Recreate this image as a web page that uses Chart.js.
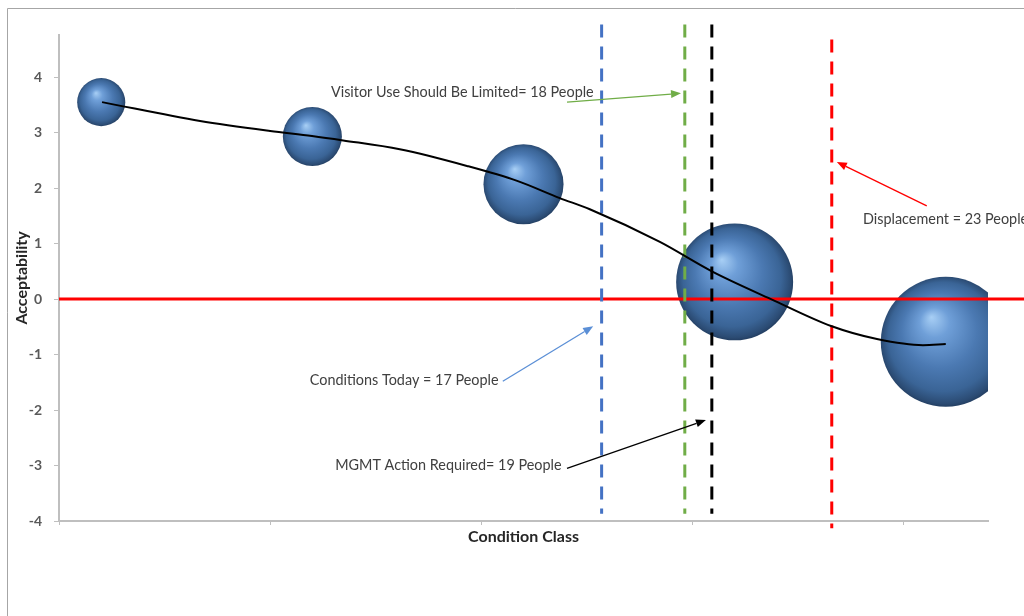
<!DOCTYPE html>
<html>
<head>
<meta charset="utf-8">
<script src="https://cdn.jsdelivr.net/npm/chart.js@4"></script>
<style>
    html, body { margin: 0; padding: 0; background: #fff; }
    #wrap { width: 1024px; height: 616px; }
</style>
</head>
<body>
<div id="wrap"><canvas id="chart" width="1024" height="616"></canvas></div>
<script>
// bubbles (condition classes)
const bubbleX = [1, 6, 11, 16, 21];
const bubbleY = [3.55, 2.93, 2.07, 0.31, -0.77];
const bubbleSize = [11.8, 17.8, 32.7, 69.8, 86.2];

// trend curve
const trendX = [1.02, 3.34, 5.0, 5.99, 6.73, 8.07, 9.66, 10.85, 11.86, 12.57, 14.23, 15.46, 16.86, 18.3, 19.37, 20.46, 21.0];
const trendY = [3.55, 3.21, 3.03, 2.94, 2.86, 2.70, 2.40, 2.13, 1.82, 1.62, 1.03, 0.50, 0.0, -0.49, -0.72, -0.83, -0.81];

// vertical thresholds
const markerX = [12.85, 14.82, 15.46, 18.3];
const markerTop = [4.95, 4.95, 4.95, 4.68];
const markerBottom = [-3.87, -3.87, -3.87, -4.13];
const markerColors = ['#4472c4', '#70ad47', '#000000', '#ff0000'];

// callouts
const noteText = ['Visitor Use Should Be Limited= 18 People', 'Displacement = 23 People', 'Conditions Today = 17 People', 'MGMT Action Required= 19 People'];
const noteX = [6.44, 19.04, 5.94, 6.54];
const noteY = [3.72, 1.43, -1.47, -3.0];
const arrowFromX = [12.03, 20.55, 10.51, 12.03];
const arrowFromY = [3.55, 1.68, -1.48, -3.05];
const arrowToX = [14.73, 18.42, 12.65, 15.32];
const arrowToY = [3.71, 2.47, -0.49, -2.18];
const arrowColors = ['#70ad47', '#ff0000', '#5b8fd6', '#000000'];

const yTicks = [-4, -3, -2, -1, 0, 1, 2, 3, 4];

function sphere(ctx) {
    const chart = ctx.chart;
    if (!ctx.raw || !chart.scales.x) return '#4a78b0';
    const cx = chart.scales.x.getPixelForValue(ctx.raw.x);
    const cy = chart.scales.y.getPixelForValue(ctx.raw.y);
    const r = ctx.raw.r;
    if (!isFinite(cx) || !isFinite(cy) || !isFinite(r)) return '#4a78b0';
    const g = chart.ctx.createRadialGradient(cx - r * 0.22, cy - r * 0.38, 0, cx, cy, r * 1.05);
    g.addColorStop(0, '#a8cff5');
    g.addColorStop(0.22, '#6f9fd8');
    g.addColorStop(0.55, '#4b79b2');
    g.addColorStop(0.8, '#3a6496');
    g.addColorStop(0.93, '#2b4b73');
    g.addColorStop(1, '#1c3352');
    return g;
}

const datasets = [];

datasets.push({
    type: 'line',
    data: trendX.map((x, i) => ({ x: x, y: trendY[i] })),
    borderColor: '#000',
    borderWidth: 2,
    pointRadius: 0,
    cubicInterpolationMode: 'monotone',
    order: 1
});

markerX.forEach((x, i) => {
    datasets.push({
        type: 'line',
        data: [{ x: x, y: markerTop[i] }, { x: x, y: markerBottom[i] }],
        borderColor: markerColors[i],
        borderWidth: 3,
        borderDash: [13, 9],
        pointRadius: 0,
        clip: false,
        order: 2
    });
});

datasets.push({
    type: 'line',
    data: [{ x: 0, y: 0 }, { x: 23, y: 0 }],
    borderColor: '#ff0000',
    borderWidth: 3,
    pointRadius: 0,
    clip: false,
    order: 3
});

datasets.push({
    type: 'bubble',
    data: bubbleX.map((x, i) => ({ x: x, y: bubbleY[i], r: 7 * Math.sqrt(bubbleSize[i]) })),
    backgroundColor: sphere,
    borderWidth: 0,
    clip: 0,
    order: 10
});

const callouts = {
    id: 'callouts',
    beforeDraw(chart) {
        const c = chart.ctx;
        c.save();
        c.strokeStyle = '#a6a6a6';
        c.lineWidth = 1;
        c.beginPath();
        c.moveTo(7.5, 616);
        c.lineTo(7.5, 8.5);
        c.lineTo(1024, 8.5);
        c.stroke();
        c.restore();
    },
    afterDatasetsDraw(chart) {
        const c = chart.ctx;
        const xs = chart.scales.x, ys = chart.scales.y;
        c.save();
        c.font = '14.4px Lato, "Open Sans", sans-serif';
        c.fillStyle = '#404040';
        c.textBaseline = 'middle';
        c.textAlign = 'left';
        noteText.forEach((t, i) => {
            c.fillText(t, xs.getPixelForValue(noteX[i]), ys.getPixelForValue(noteY[i]));
        });
        arrowFromX.forEach((fx, i) => {
            const x1 = xs.getPixelForValue(fx), y1 = ys.getPixelForValue(arrowFromY[i]);
            const x2 = xs.getPixelForValue(arrowToX[i]), y2 = ys.getPixelForValue(arrowToY[i]);
            const a = Math.atan2(y2 - y1, x2 - x1);
            const hl = 10, hw = 4;
            c.strokeStyle = arrowColors[i];
            c.fillStyle = arrowColors[i];
            c.lineWidth = 1.3;
            c.beginPath();
            c.moveTo(x1, y1);
            c.lineTo(x2 - hl * Math.cos(a), y2 - hl * Math.sin(a));
            c.stroke();
            c.beginPath();
            c.moveTo(x2, y2);
            c.lineTo(x2 - hl * Math.cos(a) + hw * Math.sin(a), y2 - hl * Math.sin(a) - hw * Math.cos(a));
            c.lineTo(x2 - hl * Math.cos(a) - hw * Math.sin(a), y2 - hl * Math.sin(a) + hw * Math.cos(a));
            c.closePath();
            c.fill();
        });
        c.restore();
    }
};

new Chart(document.getElementById('chart'), {
    type: 'bubble',
    data: { datasets: datasets },
    plugins: [callouts],
    options: {
        responsive: false,
        animation: false,
        events: [],
        layout: { autoPadding: false, padding: { left: 7, top: 35, right: 36, bottom: 0 } },
        plugins: { legend: { display: false }, tooltip: { enabled: false } },
        scales: {
            x: {
                type: 'linear',
                min: 0,
                max: 22,
                afterFit: (s) => { s.height = 95; },
                ticks: { display: false, stepSize: 5, includeBounds: false },
                grid: { drawOnChartArea: false, drawTicks: true, tickLength: 4, color: '#bfbfbf' },
                border: { color: '#bfbfbf', width: 2 },
                title: {
                    display: true,
                    text: 'Condition Class',
                    color: '#262626',
                    font: { family: 'Lato, "Open Sans", sans-serif', size: 16, weight: 'bold' },
                    padding: { top: 4, bottom: 70 }
                }
            },
            y: {
                type: 'linear',
                min: -4,
                max: 4.76,
                afterFit: (s) => { s.width = 52; },
                afterBuildTicks: (s) => { s.ticks = yTicks.map(v => ({ value: v })); },
                ticks: {
                    color: '#595959',
                    padding: 12,
                    font: { family: 'Lato, "Open Sans", sans-serif', size: 14, weight: 'bold' }
                },
                grid: { drawOnChartArea: false, drawTicks: true, tickLength: 5, color: '#bfbfbf' },
                border: { color: '#bfbfbf', width: 2 },
                title: {
                    display: true,
                    text: 'Acceptability',
                    color: '#262626',
                    font: { family: 'Lato, "Open Sans", sans-serif', size: 16, weight: 'bold' },
                    padding: { top: 5, bottom: 0 }
                }
            }
        }
    }
});
</script>
</body>
</html>
